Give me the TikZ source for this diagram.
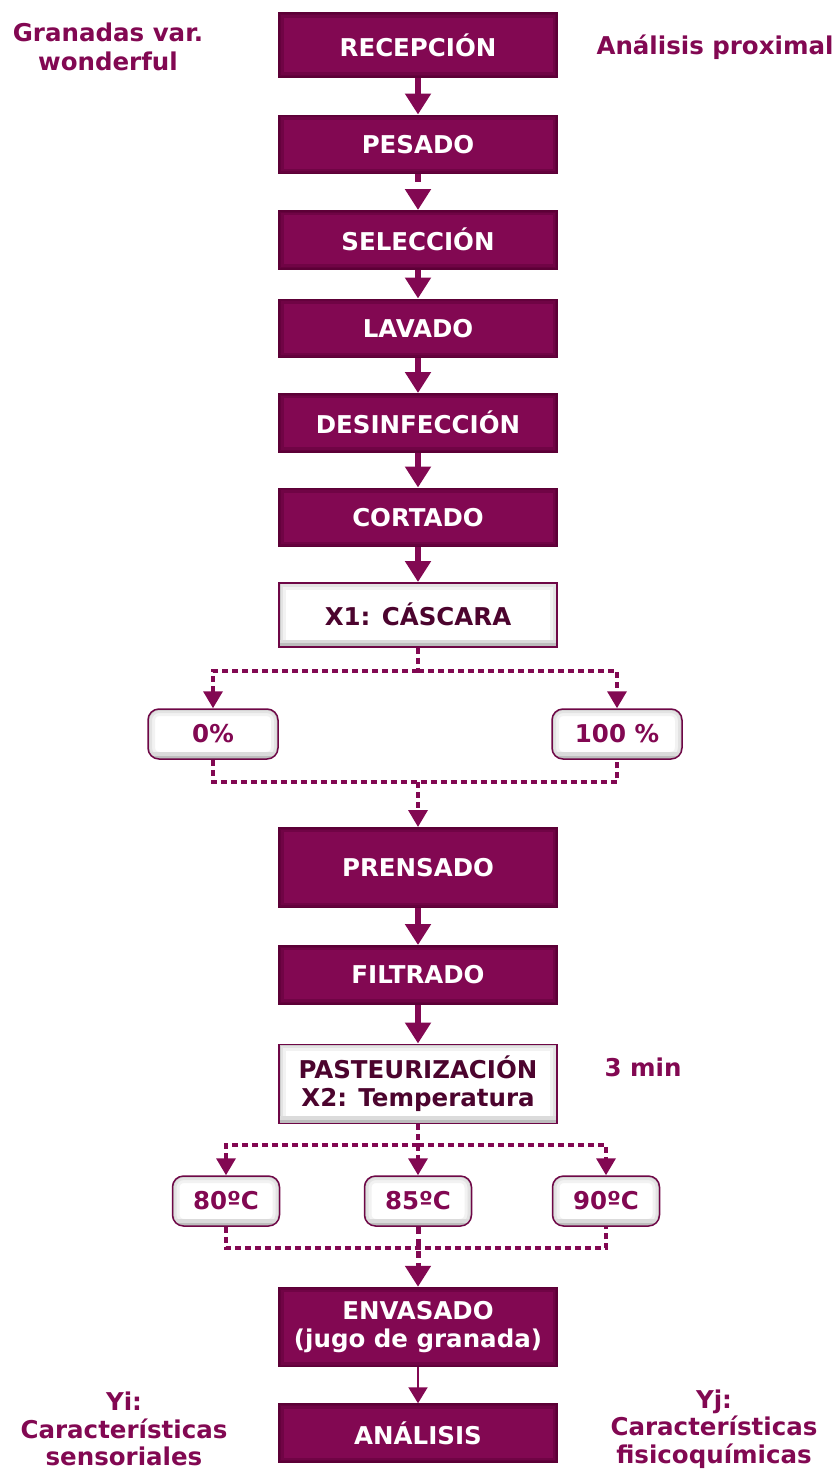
\documentclass[tikz,border=0pt]{standalone}
\usepackage{fontspec}
\setmainfont{DejaVu Sans}
\usetikzlibrary{positioning}
\usetikzlibrary{arrows.meta}
\definecolor{granada}{RGB}{130,8,82}
\definecolor{granadaoscuro}{RGB}{92,0,54}
\definecolor{granadatexto}{RGB}{76,4,46}
\tikzset{
	x=1pt, y=1pt,
	every node/.style={align=center, font=\fontsize{24.5}{28.5}\selectfont\bfseries},
	paso/.style={rectangle, fill=granada, draw=granadaoscuro, line width=1.5pt, text=white,
		minimum width=278pt, minimum height=58pt,
		path picture={\draw[granadaoscuro, line width=9pt, opacity=0.45] (path picture bounding box.south west) rectangle (path picture bounding box.north east);
			\draw[granadaoscuro, line width=4pt, opacity=0.5] (path picture bounding box.south west) rectangle (path picture bounding box.north east);}},
	blanca/.style={rectangle, fill=white, draw=granada!85!black, line width=1.5pt, text=granadatexto,
		minimum width=278pt, minimum height=64pt,
		path picture={\draw[black!5, line width=14pt] (path picture bounding box.south west) rectangle (path picture bounding box.north east);
			\draw[black!11, line width=8pt] (path picture bounding box.south west) rectangle (path picture bounding box.north east);
			\draw[black!20, line width=3pt] (path picture bounding box.south west) rectangle (path picture bounding box.north east);
			\draw[black!14, line width=14pt] (path picture bounding box.south west) -- (path picture bounding box.south east);
			\draw[black!26, line width=7pt] (path picture bounding box.south west) -- (path picture bounding box.south east);}},
	opcion/.style={blanca, rounded corners=11pt, text=granada, minimum width=130pt, minimum height=50pt},
	etiqueta/.style={text=granada},
	flecha/.style={draw=granada, line width=6pt, -{Triangle[length=21pt, width=25pt]}},
	flechafina/.style={draw=granada, line width=2pt, -{Triangle[length=16pt, width=19pt]}},
	rama/.style={draw=granada, line width=3.5pt, dash pattern=on 6pt off 4pt},
	ramaflecha/.style={rama, -{Triangle[length=17pt, width=19pt]}}
}

\begin{document}
\begin{tikzpicture}
	\useasboundingbox (0,0) rectangle (836,-1472);
	
	% proceso principal
	\node (recepcion) [paso, minimum height=63.5pt] at (418,-45) {RECEPCIÓN};
	\node (pesado) [paso, below=37pt of recepcion] {PESADO};
	\node (seleccion) [paso, below=36pt of pesado] {SELECCIÓN};
	\node (lavado) [paso, below=29pt of seleccion] {LAVADO};
	\node (desinfeccion) [paso, below=35pt of lavado] {DESINFECCIÓN};
	\node (cortado) [paso, below=35pt of desinfeccion] {CORTADO};
	\node (cascara) [blanca, below=35pt of cortado] {X1: CÁSCARA};
	
	% niveles de cascara
	\node (cero) [opcion] at (213,-734) {0\%};
	\node (cien) [opcion] at (617,-734) {100 \%};
	
	\node (prensado) [paso, minimum height=79.5pt] at (418,-867.5) {PRENSADO};
	\node (filtrado) [paso, below=37pt of prensado] {FILTRADO};
	\node (pasteurizacion) [blanca, minimum height=79pt, below=39pt of filtrado] {PASTEURIZACIÓN\\X2: Temperatura};
	
	% temperaturas
	\node (t80) [opcion, minimum width=107pt] at (226,-1201) {80ºC};
	\node (t85) [opcion, minimum width=107pt] at (418,-1201) {85ºC};
	\node (t90) [opcion, minimum width=107pt] at (606,-1201) {90ºC};
	
	\node (envasado) [paso, minimum height=79pt] at (418,-1327) {ENVASADO\\(jugo de granada)};
	\node (analisis) [paso, below=36pt of envasado] {ANÁLISIS};
	
	% etiquetas laterales
	\node (granadas) [etiqueta] at (108,-47) {Granadas var.\\wonderful};
	\node (proximal) [etiqueta] at (715,-47) {Análisis proximal};
	\node (tiempo) [etiqueta] at (643,-1067) {3 min};
	\node (yi) [etiqueta, font=\fontsize{24.5}{27.5}\selectfont\bfseries] at (124,-1429) {Yi:\\Características\\sensoriales};
	\node (yj) [etiqueta, font=\fontsize{24.5}{27.5}\selectfont\bfseries] at (714,-1429) {Yj:\\Características\\fisicoquímicas};
	
	% flechas
	\draw[flecha] (recepcion) -- (pesado);
	\draw[flecha, dash pattern=on 8pt off 7pt] (pesado) -- (seleccion);
	\draw[flecha] (seleccion) -- (lavado);
	\draw[flecha] (lavado) -- (desinfeccion);
	\draw[flecha] (desinfeccion) -- (cortado);
	\draw[flecha] (cortado) -- (cascara);
	
	\coordinate (c1) at (418,-671);
	\coordinate (c2) at (418,-782);
	\draw[rama] (cascara) -- (c1);
	\draw[ramaflecha] (c1) -| (cero);
	\draw[ramaflecha] (c1) -| (cien);
	\draw[rama] (cero) |- (c2) -| (cien);
	\draw[ramaflecha] (c2) -- (prensado);
	
	\draw[flecha] (prensado) -- (filtrado);
	\draw[flecha] (filtrado) -- (pasteurizacion);
	
	\coordinate (c3) at (418,-1145);
	\coordinate (c4) at (418,-1248);
	\draw[rama] (pasteurizacion) -- (c3);
	\draw[ramaflecha] (c3) -| (t80);
	\draw[ramaflecha] (c3) -- (t85);
	\draw[ramaflecha] (c3) -| (t90);
	\draw[rama] (t80) |- (c4) -| (t90);
	\draw[flecha, line width=5pt, dash pattern=on 7pt off 5pt] (t85) -- (envasado);
	\draw[flechafina] (envasado) -- (analisis);
\end{tikzpicture}
\end{document}
